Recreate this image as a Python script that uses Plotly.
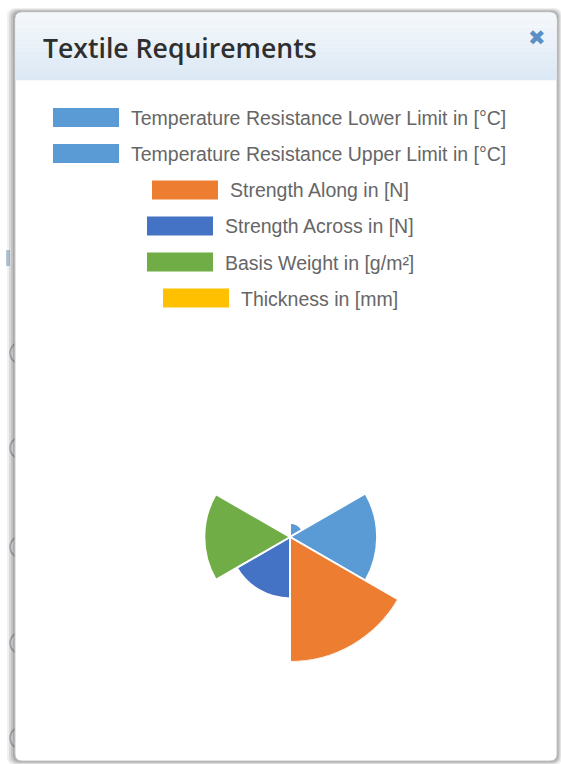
import plotly.graph_objects as go

# ---- data -------------------------------------------------------------
labels = [
    "Temperature Resistance Lower Limit in [°C]",
    "Temperature Resistance Upper Limit in [°C]",
    "Strength Along in [N]",
    "Strength Across in [N]",
    "Basis Weight in [g/m²]",
    "Thickness in [mm]",
]
values = [20, 122, 175, 86, 120, 0.5]
colors = ["#5b9bd5", "#5b9bd5", "#ed7d31", "#4472c4", "#70ad47", "#ffc000"]

# ---- page geometry (pixels) ---------------------------------------------
W, H = 561, 764


def px(x):
    return x / W


def py(y):
    return 1 - y / H


def rounded_path(x0, y0, x1, y1, r, top_only=False):
    """SVG path (paper coords) for a rectangle with rounded corners."""
    p = [
        f"M {px(x0)},{py(y0 + r)}",
        f"Q {px(x0)},{py(y0)} {px(x0 + r)},{py(y0)}",
        f"L {px(x1 - r)},{py(y0)}",
        f"Q {px(x1)},{py(y0)} {px(x1)},{py(y0 + r)}",
    ]
    if top_only:
        p += [f"L {px(x1)},{py(y1)}", f"L {px(x0)},{py(y1)}", "Z"]
    else:
        p += [
            f"L {px(x1)},{py(y1 - r)}",
            f"Q {px(x1)},{py(y1)} {px(x1 - r)},{py(y1)}",
            f"L {px(x0 + r)},{py(y1)}",
            f"Q {px(x0)},{py(y1)} {px(x0)},{py(y1 - r)}",
            "Z",
        ]
    return " ".join(p)


def hex_mix(c0, c1, t):
    a = [int(c0[i:i + 2], 16) for i in (1, 3, 5)]
    b = [int(c1[i:i + 2], 16) for i in (1, 3, 5)]
    return "#" + "".join(f"{round(a[k] + (b[k] - a[k]) * t):02x}" for k in range(3))


shapes = []

# faint page content behind the dialog
for cy in [353, 448, 547, 643, 738]:
    shapes.append(dict(type="circle", xref="paper", yref="paper",
                       x0=px(10), x1=px(32), y0=py(cy + 11), y1=py(cy - 11),
                       line=dict(color="#b9b9c4", width=1.5), fillcolor="rgba(0,0,0,0)",
                       layer="below"))
shapes.append(dict(type="rect", xref="paper", yref="paper",
                   x0=px(6), x1=px(10), y0=py(266), y1=py(250),
                   fillcolor="#b8c9d8", line=dict(width=0), layer="below"))

# dialog shadow
for grow, col in [(8, "rgba(0,0,0,0.06)"), (6, "rgba(0,0,0,0.09)"),
                  (4, "rgba(0,0,0,0.11)"), (2, "rgba(0,0,0,0.13)")]:
    shapes.append(dict(type="path", xref="paper", yref="paper",
                       path=rounded_path(15 - grow, 12 - grow * 0.5, 557 + grow * 0.6, 761 + grow * 0.5, 8),
                       fillcolor=col, line=dict(width=0), layer="below"))

# dialog body
shapes.append(dict(type="path", xref="paper", yref="paper",
                   path=rounded_path(15, 12, 557, 761, 7),
                   fillcolor="#ffffff", line=dict(color="#c8c8c8", width=1), layer="below"))

# dialog header with a soft vertical gradient
top_c, bot_c = "#f3f7fb", "#dbe8f4"
shapes.append(dict(type="path", xref="paper", yref="paper",
                   path=rounded_path(15.5, 12.5, 556.5, 20, 7, top_only=True),
                   fillcolor=top_c, line=dict(width=0), layer="below"))
n_steps = 15
y_start, y_end = 19, 80
step = (y_end - y_start) / n_steps
for i in range(n_steps):
    shapes.append(dict(type="rect", xref="paper", yref="paper",
                       x0=px(15.5), x1=px(556.5),
                       y0=py(y_start + (i + 1) * step + 0.3), y1=py(y_start + i * step),
                       fillcolor=hex_mix(top_c, bot_c, (i + 0.5) / n_steps),
                       line=dict(width=0), layer="below"))

# legend (one centred row per series)
box_w, box_h = 66, 19
row_y = [117.5, 153.5, 190, 226, 262, 298]
row_x = [53, 53, 152, 147, 147, 163]
annotations = []
for lab, col, cx, cy in zip(labels, colors, row_x, row_y):
    shapes.append(dict(type="rect", xref="paper", yref="paper",
                       x0=px(cx), x1=px(cx + box_w), y0=py(cy + box_h / 2), y1=py(cy - box_h / 2),
                       fillcolor=col, line=dict(width=0), layer="above"))
    annotations.append(dict(x=px(cx + box_w + 10), y=py(cy + 0.5), xref="paper", yref="paper",
                            text=lab, showarrow=False, xanchor="left", yanchor="middle",
                            font=dict(family="Liberation Sans, Arial", size=19.5, color="#666666")))

# header title and close icon
annotations.append(dict(x=px(40.5), y=py(47.5), xref="paper", yref="paper",
                        text="Textile Requirements", showarrow=False,
                        xanchor="left", yanchor="middle",
                        font=dict(family="Open Sans", size=26.6, color="#2f2f2f", weight=600)))
annotations.append(dict(x=px(536.5), y=py(38.5), xref="paper", yref="paper",
                        text="✖", showarrow=False, xanchor="center", yanchor="middle",
                        font=dict(family="DejaVu Sans", size=21, color="#5b8fc6")))

# ---- polar area chart ---------------------------------------------------
n = len(values)
sector = 360 / n
thetas = [sector * (i + 0.5) for i in range(n)]

fig = go.Figure()
fig.add_trace(go.Barpolar(
    r=values,
    theta=thetas,
    width=[sector] * n,
    marker=dict(color=colors, line=dict(color="#ffffff", width=2)),
    text=labels,
    hoverinfo="text+r",
    showlegend=False,
))

cx, cy, R = 290, 537, 125
fig.update_layout(
    width=W, height=H,
    margin=dict(l=0, r=0, t=0, b=0),
    paper_bgcolor="#ffffff",
    plot_bgcolor="#ffffff",
    showlegend=False,
    shapes=shapes,
    annotations=annotations,
    polar=dict(
        domain=dict(x=[px(cx - R), px(cx + R)], y=[py(cy + R), py(cy - R)]),
        bgcolor="rgba(0,0,0,0)",
        hole=0,
        radialaxis=dict(range=[0, max(values)], visible=False, showgrid=False),
        angularaxis=dict(rotation=90, direction="clockwise", visible=False,
                         showgrid=False, showline=False),
    ),
)

fig.write_html("out.html")
